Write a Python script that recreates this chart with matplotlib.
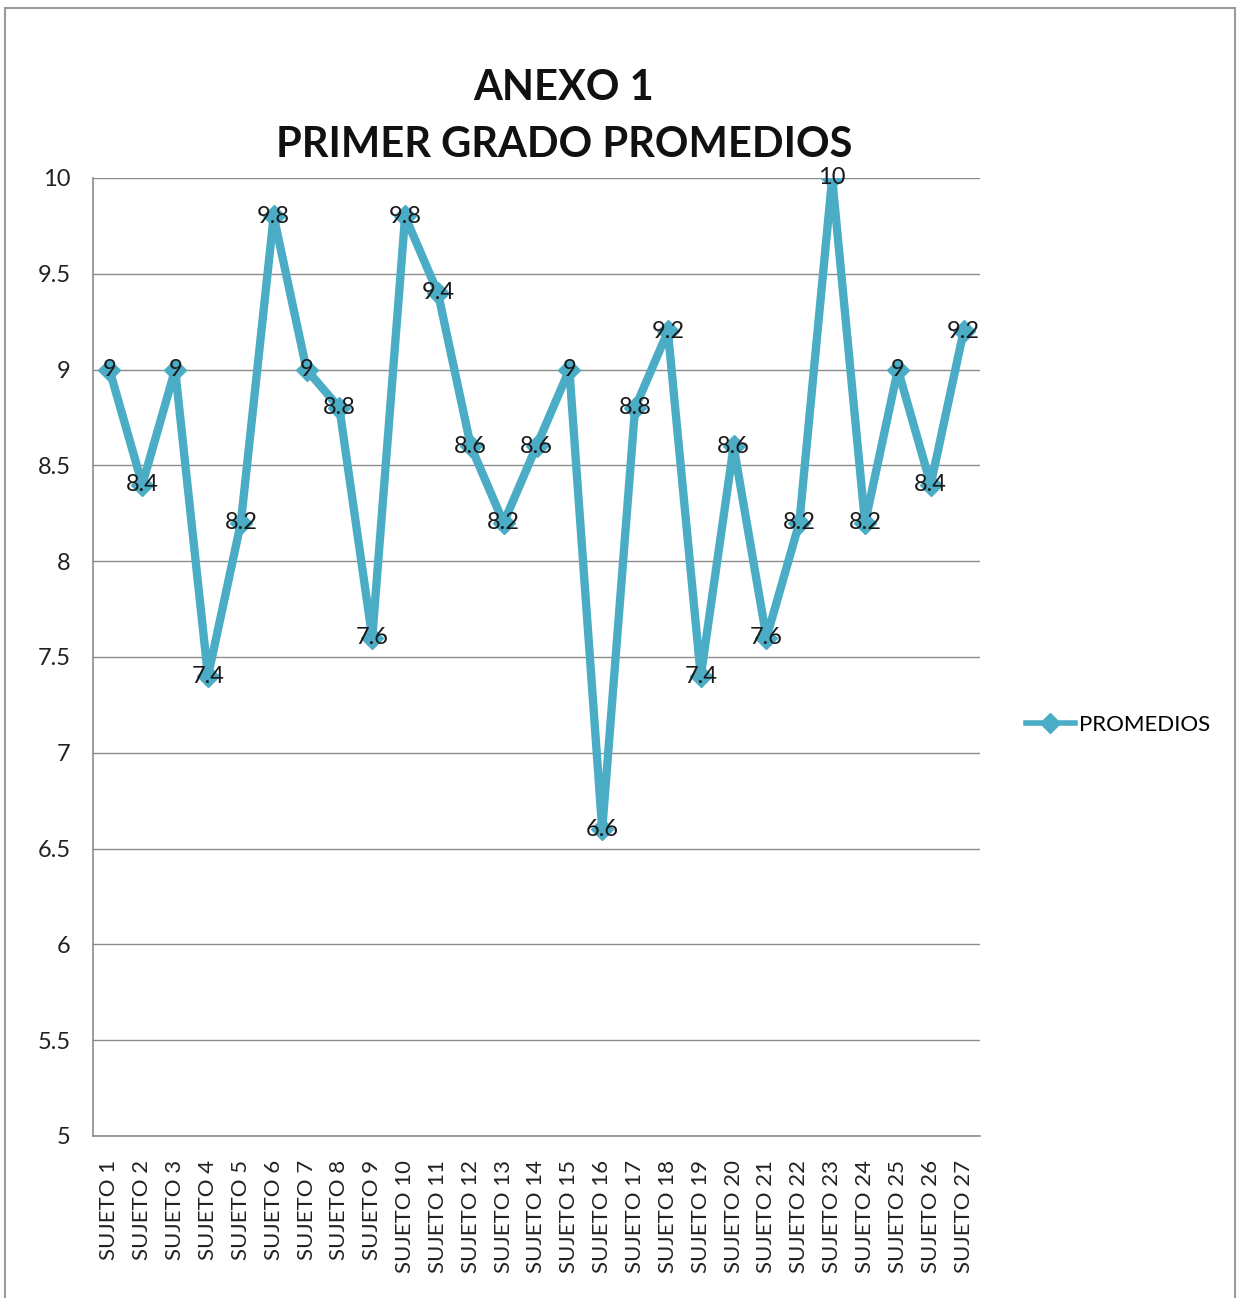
import matplotlib
matplotlib.use('Agg')
from matplotlib import pyplot as plt
from matplotlib.patches import Rectangle
from matplotlib.lines import Line2D

subjects = ['SUJETO %d' % i for i in range(1, 28)]
promedios = [9, 8.4, 9, 7.4, 8.2, 9.8, 9, 8.8, 7.6, 9.8, 9.4, 8.6, 8.2, 8.6, 9,
             6.6, 8.8, 9.2, 7.4, 8.6, 7.6, 8.2, 10, 8.2, 9, 8.4, 9.2]
y_ticks = [5, 5.5, 6, 6.5, 7, 7.5, 8, 8.5, 9, 9.5, 10]
title_lines = ['ANEXO 1', 'PRIMER GRADO PROMEDIOS']
series_name = 'PROMEDIOS'

color = '#4BACC6'
plt.rcParams['font.family'] = ['Lato', 'DejaVu Sans']

fig = plt.figure(figsize=(12.38, 12.98), dpi=100)
fig.patches.append(Rectangle((5 / 1238, -0.1), 1230 / 1238, 1.1 - 8 / 1298,
                             transform=fig.transFigure, fill=False,
                             edgecolor='#9a9a9a', linewidth=1.5))

ax = fig.add_axes([93 / 1238, 1 - 1136 / 1298, 887 / 1238, 958 / 1298])
x = list(range(len(subjects)))
ax.plot(x, promedios, color=color, linewidth=6, marker='D', markersize=11,
        markeredgecolor=color, markerfacecolor=color, zorder=3)

# data labels centered on the points
for xi, v in zip(x, promedios):
    ax.text(xi, v, '%g' % v, ha='center', va='center', fontsize=17,
            color='#1a1a1a', zorder=4)

ax.set_xlim(-0.5, len(subjects) - 0.5)
ax.set_ylim(5, 10)
ax.set_yticks(y_ticks)
ax.set_yticklabels(['%g' % t for t in y_ticks], fontsize=17, color='#222222')
ax.set_xticks(x)
ax.set_xticklabels(subjects, rotation=90, fontsize=16, color='#222222')
ax.tick_params(axis='x', length=0, pad=17)
ax.tick_params(axis='y', length=0, pad=16)
ax.grid(axis='y', color='#8c8c8c', linewidth=1)
ax.set_axisbelow(True)
for side in ['top', 'right']:
    ax.spines[side].set_visible(False)
for side in ['left', 'bottom']:
    ax.spines[side].set_color('#8c8c8c')
    ax.spines[side].set_linewidth(1.2)

fig.text(564 / 1238, 1 - 88 / 1298, title_lines[0], ha='center', va='center',
         fontsize=30, fontweight='bold', color='#111111')
fig.text(564 / 1238, 1 - 145 / 1298, title_lines[1], ha='center', va='center',
         fontsize=30, fontweight='bold', color='#111111')

# legend
handle = Line2D([0], [0], color=color, linewidth=4, marker='D', markersize=10)
fig.legend([handle], [series_name], loc='center left',
           bbox_to_anchor=(1006 / 1238, 1 - 725 / 1298), frameon=False,
           fontsize=16, handlelength=2.2, handletextpad=0.2)

fig.savefig('out.png', dpi=100)
